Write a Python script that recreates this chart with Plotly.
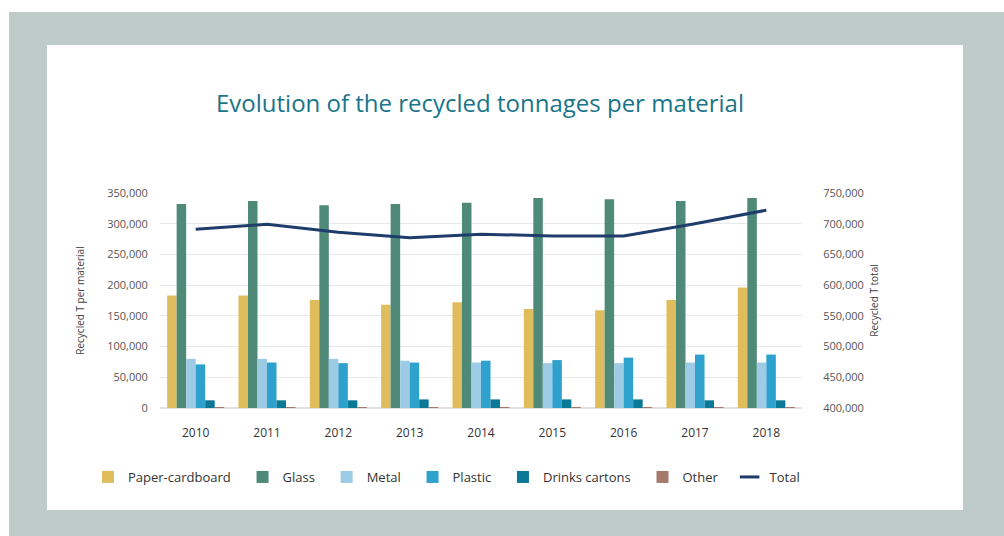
import plotly.graph_objects as go

# Recycled tonnages per material and year
years = ["2010", "2011", "2012", "2013", "2014", "2015", "2016", "2017", "2018"]
paper_cardboard = [183000, 183000, 176000, 168000, 172000, 161000, 159000, 176000, 196000]
glass = [332000, 337000, 330000, 332000, 334000, 342000, 340000, 337000, 342000]
metal = [80000, 80000, 80000, 77000, 74000, 73000, 73000, 74000, 74000]
plastic = [71000, 74000, 73000, 74000, 77000, 78000, 82000, 87000, 87000]
drinks_cartons = [12500, 12500, 12500, 14000, 14000, 14000, 14000, 12500, 12500]
other = [1000, 1000, 1000, 1000, 1000, 1000, 1000, 1000, 1000]
total = [691000, 699000, 686000, 677000, 683000, 680000, 680000, 700000, 722000]

left_ticks = [0, 50000, 100000, 150000, 200000, 250000, 300000, 350000]
right_ticks = [400000, 450000, 500000, 550000, 600000, 650000, 700000, 750000]

materials = [
    ("Paper-cardboard", paper_cardboard, "#dfbd5c"),
    ("Glass", glass, "#4e8a77"),
    ("Metal", metal, "#9dcbe5"),
    ("Plastic", plastic, "#2ea1cd"),
    ("Drinks cartons", drinks_cartons, "#0b7896"),
    ("Other", other, "#a7796a"),
]
navy = "#1f3d6b"
font_main = "Open Sans, Lato, sans-serif"
pad = "\u00a0\u00a0"  # extra room after each legend label

fig = go.Figure()
for name, vals, color in materials:
    fig.add_trace(go.Bar(x=years, y=vals, name=name + pad,
                         marker=dict(color=color, line=dict(width=0)), yaxis="y"))

fig.add_trace(go.Scatter(x=years, y=total, name="Total", mode="lines", yaxis="y2",
                         line=dict(color=navy, width=3), showlegend=False))
# short thick dash for the legend entry of the total line
fig.add_trace(go.Scatter(x=[None], y=[None], name="Total", mode="markers", yaxis="y2",
                         marker=dict(symbol="line-ew", size=14, color=navy,
                                     line=dict(width=3, color=navy))))

# page frame: grey border around a white panel
W, H = 1004, 536
L, R, T, B = 160, 202, 193, 128
pw, ph = W - L - R, H - T - B


def px_x(x):
    return (x - L) / pw


def px_y(y):
    return (H - B - y) / ph


shapes = [
    dict(type="rect", xref="paper", yref="paper", layer="below",
         x0=px_x(9), x1=px_x(1010), y0=px_y(545), y1=px_y(12),
         fillcolor="#bfcbc8", line=dict(width=0)),
    dict(type="rect", xref="paper", yref="paper", layer="below",
         x0=px_x(47), x1=px_x(963), y0=px_y(510), y1=px_y(45),
         fillcolor="#ffffff", line=dict(width=0)),
]

fig.update_layout(
    width=W, height=H,
    margin=dict(l=L, r=R, t=T, b=B, pad=0),
    paper_bgcolor="#ffffff",
    plot_bgcolor="rgba(0,0,0,0)",
    shapes=shapes,
    barmode="group",
    bargap=0.2,
    bargroupgap=0,
    title=dict(text="Evolution of the recycled tonnages per material",
               x=480 / W, xref="container", xanchor="center",
               y=1 - 104 / H, yref="container", yanchor="middle",
               font=dict(family="Open Sans, Lato, sans-serif", size=24, color="#1a7589")),
    xaxis=dict(type="category", showgrid=False, zeroline=False, showline=False,
               ticks="outside", ticklen=14, tickcolor="rgba(0,0,0,0)",
               tickfont=dict(family=font_main, size=12, color="#333333")),
    yaxis=dict(range=[0, 350000], tickvals=left_ticks, tickformat=",d",
               showgrid=True, gridcolor="#e8e8e8", gridwidth=1,
               zeroline=True, zerolinecolor="#e0e0e0", showline=False,
               ticks="outside", ticklen=9, tickcolor="rgba(0,0,0,0)",
               tickfont=dict(family=font_main, size=11, color="#555555"),
               title=dict(text="Recycled T per material", standoff=20,
                          font=dict(family=font_main, size=10, color="#444444"))),
    yaxis2=dict(range=[400000, 750000], tickvals=right_ticks, tickformat=",d",
                overlaying="y", side="right", showgrid=False, zeroline=False,
                ticks="outside", ticklen=18, tickcolor="rgba(0,0,0,0)",
                tickfont=dict(family=font_main, size=11, color="#555555"),
                title=dict(text="Recycled T total", standoff=8,
                           font=dict(family=font_main, size=10, color="#444444"))),
    legend=dict(orientation="h", x=px_x(88), xanchor="left", y=px_y(477), yanchor="middle",
                font=dict(family=font_main, size=13, color="#333333"),
                bgcolor="rgba(0,0,0,0)", traceorder="normal"),
    showlegend=True,
)

fig.write_html("out.html")
